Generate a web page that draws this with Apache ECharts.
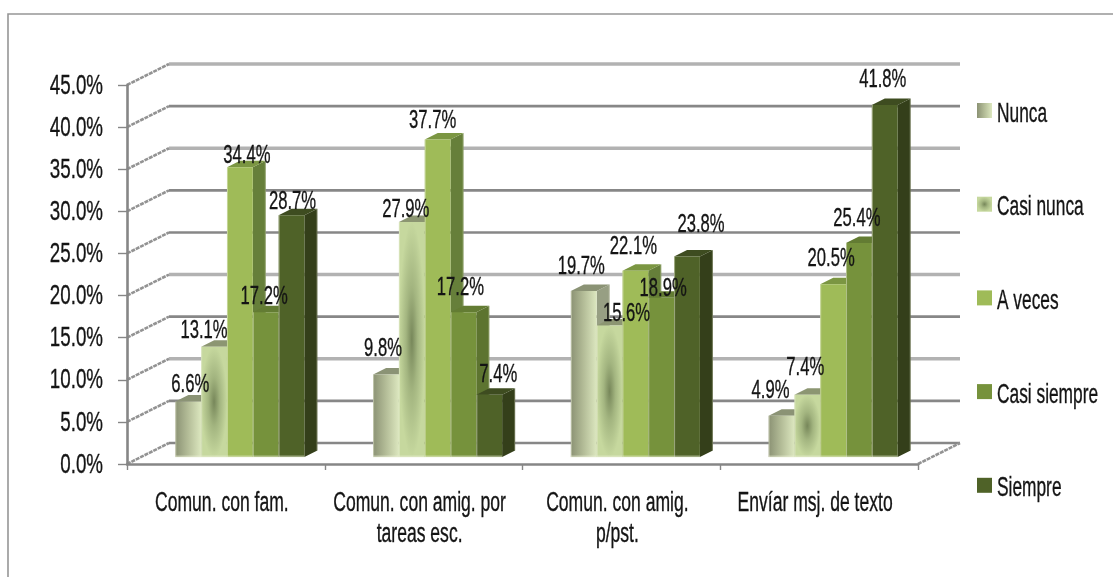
<!DOCTYPE html>
<html lang="es">
<head>
<meta charset="utf-8">
<title>Uso del teléfono</title>
<script src="https://cdn.jsdelivr.net/npm/echarts@6/dist/echarts.min.js"></script>
<style>html,body{margin:0;padding:0;background:#fff}#c{width:1113px;height:577px}</style>
</head>
<body>
<div id="c"></div>
<script>
// Categories, legend names and percentages per answer.
const categories = ['Comun. con fam.', 'Comun. con amig. por\ntareas esc.', 'Comun. con amig.\np/pst.', 'Envíar msj. de texto'];
const seriesNames = ['Nunca', 'Casi nunca', 'A veces', 'Casi siempre', 'Siempre'];
const nunca = [6.6, 9.8, 19.7, 4.9];
const casiNunca = [13.1, 27.9, 15.6, 7.4];
const aVeces = [34.4, 37.7, 22.1, 20.5];
const casiSiempre = [17.2, 17.2, 18.9, 25.4];
const siempre = [28.7, 7.4, 23.8, 41.8];
const tickValues = [0, 5, 10, 15, 20, 25, 30, 35, 40, 45];
const tickLabels = ['0.0%', '5.0%', '10.0%', '15.0%', '20.0%', '25.0%', '30.0%', '35.0%', '40.0%', '45.0%'];
const paleGridlines = [10, 20, 35, 45];
const allValues = [nunca, casiNunca, aVeces, casiSiempre, siempre];

// Hand placement of data labels around the bar tops (dx, dy per series, per category).
const labelNudge = [
  [[2, -18], [-3, -27], [-2.5, -26], [-11, -26]],
  [[-10, -17], [-6, -14], [17, -13], [-2, -28]],
  [[7, -13], [-5, -20], [-2, -26], [-2, -27]],
  [[-1.5, -17], [-3, -26], [2, -10], [-2, -26]],
  [[1, -15], [9, -21], [14, -33], [-2, -27]]
];

const FONT = '"Liberation Sans",sans-serif';
const INK = '#141414';
const WALL = { dx: 42, dy: -21 };     // depth of the floor and side wall
const FRONT = { dx: 14, dy: -7 };     // where the bars' front faces sit in that depth
const DEPTH = { dx: 13, dy: -6.5 };   // depth of a bar
const BAR_SHARE = 0.1305;             // bar width as a share of the category band
const BEVEL = 'rgba(235,240,215,0.5)';

const G = echarts.graphic;
const linearPale = () => new G.LinearGradient(0, 0, 1, 0, [
  { offset: 0, color: '#8b9274' }, { offset: 0.5, color: '#b4bd98' }, { offset: 1, color: '#dce7bf' }
]);
const radialPale = () => new G.RadialGradient(0.5, 0.5, 0.5, [
  { offset: 0, color: '#77875a' }, { offset: 0.45, color: '#a3b580' }, { offset: 1, color: '#c6d89e' }
]);
const faces = [
  { side: '#979f83', top: '#8b9375', front: linearPale },
  { side: '#8f9a78', top: '#8c9672', front: radialPale },
  { side: '#667f3a', top: '#7b9642', front: () => '#9fbb58' },
  { side: '#5d7430', top: '#637c33', front: () => '#76923c' },
  { side: '#343f1a', top: '#3e4c20', front: () => '#4f6228' }
];

// Tall condensed lettering: regular type squeezed horizontally, with a hairline stroke to keep its weight.
function squeezedText(x, y, text, size, align, extra, squeeze) {
  return {
    type: 'text', x, y, scaleX: squeeze || 0.64, silent: true,
    style: Object.assign({
      text, fill: INK, stroke: INK, lineWidth: 0.35, align: align || 'center', verticalAlign: 'middle',
      font: size + 'px ' + FONT
    }, extra || {})
  };
}

function barSeries(s) {
  return {
    type: 'custom', name: seriesNames[s], coordinateSystem: 'cartesian2d', z: 3 + s,
    encode: { x: 0, y: 1 },
    data: allValues[s].map((v, i) => [i, v]),
    renderItem(params, api) {
      const i = api.value(0), v = api.value(1);
      const w = api.size([1, 0])[0] * BAR_SHARE;
      const base = api.coord([i, 0]), head = api.coord([i, v]);
      const x0 = base[0] + (s - 2.5) * w + FRONT.dx, x1 = x0 + w;
      const yb = base[1] + FRONT.dy, yt = head[1] + FRONT.dy;
      const h = yb - yt, f = faces[s];
      const poly = (pts, fill) => ({ type: 'polygon', shape: { points: pts }, style: { fill } });
      const front = s === 1
        ? { type: 'rect', x: x0, y: yt, scaleY: h / w, shape: { x: 0, y: 0, width: w, height: w }, style: { fill: f.front() } }
        : { type: 'rect', shape: { x: x0, y: yt, width: w, height: h }, style: { fill: f.front() } };
      return {
        type: 'group',
        children: [
          poly([[x1, yb], [x1 + DEPTH.dx, yb + DEPTH.dy], [x1 + DEPTH.dx, yt + DEPTH.dy], [x1, yt]], f.side),
          poly([[x0, yt], [x0 + DEPTH.dx, yt + DEPTH.dy], [x1 + DEPTH.dx, yt + DEPTH.dy], [x1, yt]], f.top),
          front,
          // pale bevels: foot and left edge of the face, outer edge of the side
          { type: 'rect', shape: { x: x0, y: yb - 1.5, width: w, height: 2 }, style: { fill: BEVEL } },
          { type: 'rect', shape: { x: x0, y: yt, width: 1, height: h }, style: { fill: BEVEL } },
          { type: 'rect', shape: { x: x1 + DEPTH.dx - 1, y: yt + DEPTH.dy, width: 1, height: h }, style: { fill: 'rgba(235,240,215,0.3)' } }
        ]
      };
    }
  };
}

// Back wall, side wall and floor edges.
const wallSeries = {
  type: 'custom', coordinateSystem: 'cartesian2d', z: 1, silent: true,
  encode: { y: 0 },
  data: tickValues.map(v => [v]),
  renderItem(params, api) {
    const v = api.value(0);
    const band = api.size([1, 0])[0];
    const left = api.coord([0, v]);
    const xa = left[0] - band / 2, y = left[1];
    const xb = xa + band * categories.length;
    const pale = paleGridlines.includes(v);
    const edge = { stroke: '#939393', lineWidth: 2.6, lineDash: [4, 0.9] };
    const kids = [
      { type: 'line', shape: { x1: xa + WALL.dx, y1: y + WALL.dy, x2: xb + WALL.dx, y2: y + WALL.dy },
        style: { stroke: pale ? '#b2b2b2' : '#878787', lineWidth: pale ? 3.4 : 2.6 } },
      { type: 'line', shape: { x1: xa, y1: y, x2: xa + WALL.dx, y2: y + WALL.dy }, style: edge }
    ];
    if (v === 0) {
      kids.push({ type: 'line', shape: { x1: xb, y1: y, x2: xb + WALL.dx, y2: y + WALL.dy }, style: edge });
    }
    return { type: 'group', children: kids };
  }
};

const dataLabelSeries = {
  type: 'custom', coordinateSystem: 'cartesian2d', z: 12, silent: true,
  encode: { x: 0, y: 1 },
  data: allValues.flatMap((vals, s) => vals.map((v, i) => [i, v, s])),
  renderItem(params, api) {
    const i = api.value(0), v = api.value(1), s = api.value(2);
    const w = api.size([1, 0])[0] * BAR_SHARE;
    const p = api.coord([i, v]);
    const n = labelNudge[s][i];
    return squeezedText(p[0] + (s - 2) * w + FRONT.dx + n[0], p[1] + FRONT.dy + n[1] + 1.5,
      v.toFixed(1) + '%', 26);
  }
};

const yLabelSeries = {
  type: 'custom', coordinateSystem: 'cartesian2d', z: 12, silent: true,
  encode: { y: 0 },
  data: tickValues.map((v, k) => [v, k]),
  renderItem(params, api) {
    const band = api.size([1, 0])[0];
    const p = api.coord([0, api.value(0)]);
    return squeezedText(p[0] - band / 2 - 24, p[1] + 1, tickLabels[api.value(1)], 28, 'right', null, 0.67);
  }
};

const xLabelSeries = {
  type: 'custom', coordinateSystem: 'cartesian2d', z: 12, silent: true,
  encode: { x: 0 },
  data: categories.map((c, i) => [i]),
  renderItem(params, api) {
    const i = api.value(0);
    const p = api.coord([i, 0]);
    return squeezedText(p[0] - 4, p[1] + 24, categories[i], 27, 'center',
      { verticalAlign: 'top', lineHeight: 31 }, 0.65);
  }
};

// Key on the right: swatch and name for each answer.
const legendSeries = {
  type: 'custom', coordinateSystem: 'none', z: 12, silent: true,
  data: seriesNames.map((n, k) => [k]),
  renderItem(params, api) {
    const k = api.value(0);
    const y = 103 + k * 93.7, size = 15;
    return {
      type: 'group',
      children: [
        { type: 'rect', shape: { x: 977, y, width: size, height: size }, style: { fill: faces[k].front() } },
        squeezedText(997, y + 11, seriesNames[k], 27.5, 'left', null, 0.63)
      ]
    };
  }
};

const chart = echarts.init(document.getElementById('c'));
chart.setOption({
  animation: false,
  backgroundColor: '#ffffff',
  graphic: [{
    type: 'rect', silent: true, z: -1,
    shape: { x: 8, y: 14, width: 1300, height: 800 },
    style: { fill: 'none', stroke: '#969696', lineWidth: 1.6 }
  }],
  grid: { left: 127, top: 85, width: 791, height: 379 },
  xAxis: {
    type: 'category', data: categories,
    axisLine: { lineStyle: { color: '#868686', width: 2.6 } },
    axisTick: { show: true, length: 6, alignWithLabel: false, lineStyle: { color: '#868686', width: 1.4 } },
    axisLabel: { show: false }, splitLine: { show: false }, z: 2
  },
  yAxis: {
    type: 'value', min: 0, max: 45, interval: 5,
    axisLine: { show: true, lineStyle: { color: '#868686', width: 2.6 } },
    axisTick: { show: true, length: 9, lineStyle: { color: '#868686', width: 1.4 } },
    axisLabel: { show: false }, splitLine: { show: false }, z: 2
  },
  series: [wallSeries, ...seriesNames.map((n, s) => barSeries(s)), dataLabelSeries, yLabelSeries, xLabelSeries, legendSeries]
});
</script>
</body>
</html>
